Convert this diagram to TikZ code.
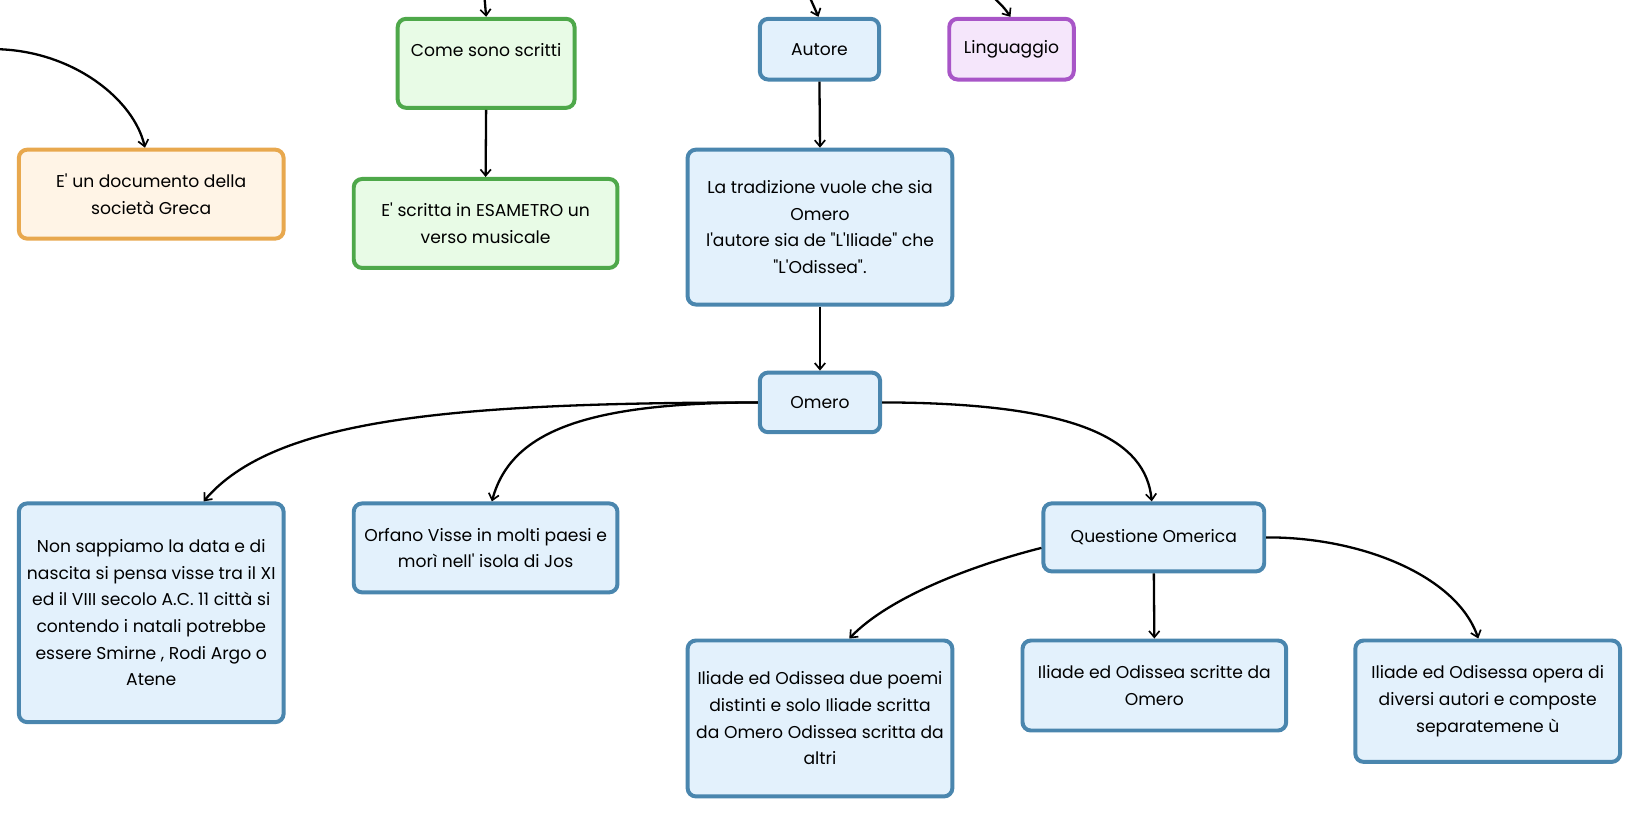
\documentclass[tikz,border=0pt]{standalone}
\usepackage{fontspec}
\newfontfamily\pop{Poppins}
\usetikzlibrary{arrows.meta}
\definecolor{bluebd}{HTML}{4A86AE}
\definecolor{bluefl}{HTML}{E3F1FC}
\definecolor{greenbd}{HTML}{4EA84A}
\definecolor{greenfl}{HTML}{E8FBE6}
\definecolor{orangebd}{HTML}{E8A84E}
\definecolor{orangefl}{HTML}{FFF4E6}
\definecolor{purplebd}{HTML}{A855C7}
\definecolor{purplefl}{HTML}{F5E6FB}
\tikzset{
  box/.style={rectangle, rounded corners=8pt, line width=3.8pt, inner sep=0pt,
    align=center, font=\pop\fontsize{16.4}{25.5}\selectfont, text=black},
  bluebox/.style={box, draw=bluebd, fill=bluefl},
  greenbox/.style={box, draw=greenbd, fill=greenfl},
  orangebox/.style={box, draw=orangebd, fill=orangefl},
  purplebox/.style={box, draw=purplebd, fill=purplefl},
  conn/.style={line width=2.2pt, black, -{Straight Barb[length=6pt,width=10pt,line width=1.6pt]}}
}
\begin{document}
\begin{tikzpicture}[x=1pt,y=-1pt]
\useasboundingbox (0,0) rectangle (1568,780);
% nodes
\node[greenbox, minimum width=169pt, minimum height=85pt] (come) at (464.5,60.5) {Come sono scritti\\\mbox{}};
\node[greenbox, minimum width=252pt, minimum height=85pt] (esam) at (464,213.5) {E' scritta in ESAMETRO un\\verso musicale};
\node[orangebox, minimum width=253pt, minimum height=85pt] (doc) at (144.5,185.5) {E' un documento della\\società Greca};
\node[bluebox, minimum width=114pt, minimum height=58pt] (autore) at (783,47) {Autore};
\node[purplebox, minimum width=119pt, minimum height=58pt] (ling) at (966.5,47) {Linguaggio};
\node[bluebox, minimum width=253pt, minimum height=148pt] (trad) at (783.5,217) {La tradizione vuole che sia\\Omero\\l'autore sia de "L'Iliade" che\\"L'Odissea".};
\node[bluebox, minimum width=115pt, minimum height=57pt] (omero) at (783.5,384.5) {Omero};
\node[bluebox, minimum width=253pt, minimum height=209pt] (nonsap) at (144.5,585.5) {Non sappiamo la data e di\\nascita si pensa visse tra il XI\\ed il VIII secolo A.C. 11 città si\\contendo i natali potrebbe\\essere Smirne , Rodi Argo o\\Atene};
\node[bluebox, minimum width=252pt, minimum height=85pt] (orfano) at (464,523.5) {Orfano Visse in molti paesi e\\morì nell' isola di Jos};
\node[bluebox, minimum width=211pt, minimum height=65pt] (quest) at (1102.5,513.5) {Questione Omerica};
\node[bluebox, minimum width=253pt, minimum height=149pt] (due) at (783.5,686.5) {Iliade ed Odissea due poemi\\distinti e solo Iliade scritta\\da Omero Odissea scritta da\\altri};
\node[bluebox, minimum width=252pt, minimum height=86pt] (scritte) at (1103,655) {Iliade ed Odissea scritte da\\Omero};
\node[bluebox, minimum width=253pt, minimum height=116pt] (opera) at (1421.5,670) {Iliade ed Odisessa opera di\\diversi autori e composte\\separatemene ù};
% free ends
\coordinate (t1) at (463,-2);
\coordinate (t2) at (774,-2);
\coordinate (t3) at (950,-2);
\coordinate (t4) at (-2,47);
% connectors
\draw[conn] (t1) -- (come.north);
\draw[conn] (t2) .. controls (778,6) .. ([xshift=-1pt]autore.north);
\draw[conn] (t3) .. controls (960,8) .. ([xshift=-1pt]ling.north);
\draw[conn] (t4) .. controls (70,49) and (128,95) .. ([xshift=-6pt]doc.north);
\draw[conn] (come.south) -- (esam.north);
\draw[conn] (autore.south) -- (trad.north);
\draw[conn] (trad.south) -- (omero.north);
\draw[conn] (omero.west) .. controls (430,385) and (262,400) .. ([xshift=50pt]nonsap.north);
\draw[conn] (omero.west) .. controls (560,385) and (488,412) .. ([xshift=6pt]orfano.north);
\draw[conn] (omero.east) .. controls (1030,385) and (1095,420) .. ([xshift=-2pt]quest.north);
\draw[conn] ([yshift=-10pt]quest.west) .. controls (930,540) and (850,570) .. ([xshift=28pt]due.north);
\draw[conn] (quest.south) -- (scritte.north);
\draw[conn] (quest.east) .. controls (1300,513) and (1392,550) .. ([xshift=-9pt]opera.north);
\end{tikzpicture}
\end{document}
